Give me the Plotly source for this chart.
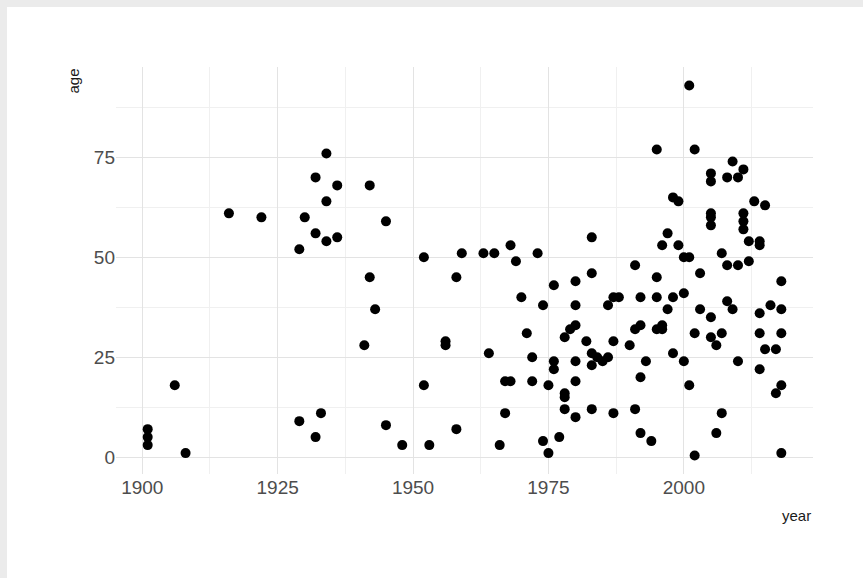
import plotly.graph_objects as go

# Year of each record and the age recorded for it
years = [
    1901, 1901, 1901, 1906, 1908, 1916, 1922, 1929, 1929, 1930,
    1932, 1932, 1932, 1933, 1934, 1934, 1934, 1936, 1936,
    1941, 1942, 1942, 1943, 1945, 1945, 1948, 1952, 1952, 1953,
    1956, 1956, 1958, 1958, 1959, 1963, 1964, 1965, 1966, 1967, 1967,
    1968, 1968, 1969, 1970, 1971, 1972, 1972, 1973, 1974, 1974,
    1975, 1975, 1976, 1976, 1976, 1977, 1978, 1978, 1978, 1978, 1979,
    1980, 1980, 1980, 1980, 1980, 1980, 1982,
    1983, 1983, 1983, 1983, 1983, 1984, 1985, 1986, 1986,
    1987, 1987, 1987, 1988, 1990, 1991, 1991, 1991,
    1992, 1992, 1992, 1992, 1993, 1994, 1995, 1995, 1995, 1995,
    1996, 1996, 1996, 1997, 1997, 1998, 1998, 1998, 1999, 1999,
    2000, 2000, 2000, 2001, 2001, 2001, 2002, 2002, 2002, 2003, 2003,
    2005, 2005, 2005, 2005, 2005, 2005, 2005, 2006, 2006,
    2007, 2007, 2007, 2008, 2008, 2008, 2009, 2009, 2010, 2010, 2010,
    2011, 2011, 2011, 2011, 2012, 2012, 2013,
    2014, 2014, 2014, 2014, 2014, 2015, 2015, 2016, 2017, 2017,
    2018, 2018, 2018, 2018, 2018,
]
ages = [
    7, 5, 3, 18, 1, 61, 60, 52, 9, 60,
    70, 56, 5, 11, 76, 64, 54, 68, 55,
    28, 68, 45, 37, 59, 8, 3, 50, 18, 3,
    29, 28, 45, 7, 51, 51, 26, 51, 3, 19, 11,
    53, 19, 49, 40, 31, 25, 19, 51, 38, 4,
    18, 1, 43, 24, 22, 5, 30, 16, 15, 12, 32,
    44, 38, 33, 24, 19, 10, 29,
    55, 46, 26, 23, 12, 25, 24, 38, 25,
    40, 29, 11, 40, 28, 48, 32, 12,
    40, 33, 20, 6, 24, 4, 77, 45, 40, 32,
    53, 33, 32, 56, 37, 65, 40, 26, 64, 53,
    50, 41, 24, 93, 50, 18, 77, 31, 0.4, 46, 37,
    71, 69, 61, 60, 58, 35, 30, 28, 6,
    51, 31, 11, 70, 48, 39, 74, 37, 70, 48, 24,
    72, 61, 59, 57, 54, 49, 64,
    54, 53, 36, 31, 22, 63, 27, 38, 27, 16,
    44, 37, 31, 18, 1,
]

x_ticks = [1900, 1925, 1950, 1975, 2000]
x_minor = [1912.5, 1937.5, 1962.5, 1987.5, 2012.5]
y_ticks = [0, 25, 50, 75]
y_minor = [12.5, 37.5, 62.5, 87.5]

# 5% padding around the data on both axes
x_lo, x_hi = min(years), max(years)
y_lo, y_hi = min(ages), max(ages)
x_pad = 0.05 * (x_hi - x_lo)
y_pad = 0.05 * (y_hi - y_lo)

W, H = 863, 578
L, R, T, B = 116, 50, 67, 104
pw, ph = W - L - R, H - T - B

fig = go.Figure(
    go.Scatter(
        x=years, y=ages, mode="markers",
        marker=dict(color="black", size=10, line=dict(width=0)),
        hoverinfo="x+y",
    )
)

tick_font = dict(family="Liberation Sans Narrow, Arial Narrow, Liberation Sans, sans-serif", size=19, color="#4d4d4d")
title_font = dict(family="Liberation Sans Narrow, Arial Narrow, Liberation Sans, sans-serif", size=15, color="#1a1a1a")

fig.update_xaxes(
    range=[x_lo - x_pad, x_hi + x_pad],
    tickmode="array", tickvals=x_ticks, ticktext=[str(v) for v in x_ticks],
    showgrid=True, gridcolor="#e3e3e3", gridwidth=1,
    minor=dict(tickmode="array", tickvals=x_minor, showgrid=True, gridcolor="#f0f0f0", gridwidth=1),
    zeroline=False, showline=False, ticks="", tickfont=tick_font,
)
fig.update_yaxes(
    range=[y_lo - y_pad, y_hi + y_pad],
    tickmode="array", tickvals=y_ticks, ticktext=[str(v) for v in y_ticks],
    showgrid=True, gridcolor="#e3e3e3", gridwidth=1,
    minor=dict(tickmode="array", tickvals=y_minor, showgrid=True, gridcolor="#f0f0f0", gridwidth=1),
    zeroline=False, showline=False, ticks="", tickfont=tick_font,
)

def px_x(p):
    return (p - L) / pw

def px_y(p):
    return (H - B - p) / ph

# light grey band along the top and left edges of the page
fig.add_shape(type="rect", xref="paper", yref="paper",
              x0=px_x(0), x1=px_x(W), y0=px_y(7), y1=px_y(0),
              fillcolor="#ebebeb", line=dict(width=0), layer="below")
fig.add_shape(type="rect", xref="paper", yref="paper",
              x0=px_x(0), x1=px_x(7), y0=px_y(H), y1=px_y(0),
              fillcolor="#ebebeb", line=dict(width=0), layer="below")

fig.add_annotation(text="age", xref="paper", yref="paper",
                   x=px_x(73), y=px_y(67), xanchor="center", yanchor="top",
                   textangle=-90, showarrow=False, font=title_font)
fig.add_annotation(text="year", xref="paper", yref="paper",
                   x=px_x(813), y=px_y(515), xanchor="right", yanchor="middle",
                   showarrow=False, font=title_font)

fig.update_layout(
    width=W, height=H,
    margin=dict(l=L, r=R, t=T, b=B, pad=0),
    paper_bgcolor="white", plot_bgcolor="white",
    showlegend=False,
)

fig.write_html("out.html")
